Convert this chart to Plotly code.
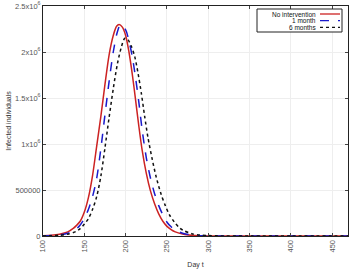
import plotly.graph_objects as go

# Red: no intervention
days_none = [100, 110, 120, 130, 137, 140, 145, 150, 155, 160, 165, 170, 175, 180, 185, 189, 192,
             196, 200, 204, 208, 212, 216, 220, 225, 230, 235, 240, 245, 250, 255, 260, 270, 280,
             290, 300, 350, 400, 470]
inf_none = [0.003, 0.008, 0.02, 0.045, 0.085, 0.11, 0.16, 0.26, 0.42, 0.66, 0.98, 1.30, 1.65, 1.97,
            2.18, 2.28, 2.30, 2.27, 2.18, 2.00, 1.76, 1.48, 1.19, 0.93, 0.68, 0.49, 0.35, 0.24,
            0.16, 0.105, 0.07, 0.045, 0.018, 0.007, 0.003, 0.001, 0.0, 0.0, 0.0]

# Blue: 1 month
days_1m = [100, 110, 120, 130, 140, 145, 150, 155, 160, 165, 170, 175, 180, 185, 190, 194,
           200, 204, 208, 212, 216, 220, 225, 230, 235, 240, 245, 250, 255, 260, 270, 280, 290,
           300, 350, 400, 470]
inf_1m = [0.002, 0.005, 0.012, 0.03, 0.075, 0.12, 0.19, 0.29, 0.43, 0.63, 0.95, 1.32, 1.68, 2.0,
          2.22, 2.30, 2.24, 2.12, 1.95, 1.72, 1.45, 1.15, 0.85, 0.63, 0.46, 0.33, 0.23, 0.15,
          0.10, 0.065, 0.027, 0.011, 0.004, 0.002, 0.0, 0.0, 0.0]

# Black: 6 months
days_6m = [100, 110, 120, 130, 140, 145, 150, 155, 160, 165, 170, 175, 180, 185, 190, 195, 199,
           203, 207, 211, 215, 219, 223, 227, 232, 237, 243, 248, 253, 259, 265, 270, 280, 290,
           300, 310, 350, 400, 470]
inf_6m = [0.001, 0.003, 0.008, 0.02, 0.05, 0.08, 0.13, 0.19, 0.29, 0.43, 0.65, 0.96, 1.29, 1.60,
          1.87, 2.06, 2.15, 2.13, 2.06, 1.95, 1.77, 1.55, 1.30, 1.07, 0.84, 0.64, 0.45, 0.33,
          0.23, 0.15, 0.09, 0.06, 0.025, 0.01, 0.005, 0.002, 0.0, 0.0, 0.0]

series_names = ["No intervention", "1 month", "6 months"]
series_colors = ["#cc2222", "#1a1acc", "#111111"]
series_dash = ["solid", "dash", "dot"]
x_ticks = [100, 150, 200, 250, 300, 350, 400, 450]
y_ticks = [0, 500000, 1000000, 1500000, 2000000, 2500000]
y_tick_labels = ["0", "500000", "1x10<sup>6</sup>", "1.5x10<sup>6</sup>",
                 "2x10<sup>6</sup>", "2.5x10<sup>6</sup>"]

fig = go.Figure()
for name, xs, ys, col, dash in zip(series_names, [days_none, days_1m, days_6m],
                                   [inf_none, inf_1m, inf_6m], series_colors, series_dash):
    fig.add_trace(go.Scatter(x=xs, y=[v * 1e6 for v in ys], mode="lines", name=name,
                             showlegend=False, hoverinfo="skip",
                             line=dict(color=col, width=1.5, dash=dash, shape="spline",
                                       smoothing=0.8)))

# legend box drawn like the original (text right-aligned, sample to the right)
W, H = 350, 270
ml, mr, mt, mb = 43, 2, 6, 34
pw, ph = W - ml - mr, H - mt - mb
def px_x(p):
    return (p - ml) / pw
def px_y(p):
    return 1 - (p - mt) / ph

shapes = [dict(type="rect", xref="paper", yref="paper",
               x0=px_x(257), x1=px_x(342), y0=px_y(32), y1=px_y(9),
               line=dict(color="#222222", width=1), fillcolor="white", layer="above")]
annotations = []
for i, (name, col, dash) in enumerate(zip(series_names, series_colors, series_dash)):
    yc = 14 + i * 6.7
    annotations.append(dict(text=name, xref="paper", yref="paper", x=px_x(318), y=px_y(yc),
                            xanchor="right", yanchor="middle", showarrow=False,
                            font=dict(size=6.5, color="#111111")))
    shapes.append(dict(type="line", xref="paper", yref="paper",
                       x0=px_x(320), x1=px_x(340), y0=px_y(yc), y1=px_y(yc),
                       line=dict(color=col, width=1.3, dash=dash), layer="above"))

font = "Liberation Sans, Arial, sans-serif"
fig.update_layout(
    width=W, height=H,
    margin=dict(l=ml, r=mr, t=mt, b=mb, autoexpand=False),
    paper_bgcolor="white", plot_bgcolor="white",
    font=dict(family=font, size=7, color="#333333"),
    showlegend=False,
    shapes=shapes, annotations=annotations,
    xaxis=dict(range=[100, 469], tickvals=x_ticks, ticks="inside", ticklen=3,
               tickangle=-90, showgrid=True, gridcolor="#eeeeee", gridwidth=1,
               showline=True, linecolor="#222222", linewidth=1, mirror="ticks",
               zeroline=False, title=dict(text="Day t", standoff=10, font=dict(size=7, color="#333333")),
               tickfont=dict(size=7.5, color="#555555")),
    yaxis=dict(range=[0, 2500000], tickvals=y_ticks, ticktext=y_tick_labels,
               ticks="inside", ticklen=3, showgrid=True, gridcolor="#eeeeee",
               showline=True, linecolor="#222222", linewidth=1, mirror="ticks",
               zeroline=False, title=dict(text="Infected individuals", standoff=2,
                                          font=dict(size=7, color="#333333")),
               tickfont=dict(size=7.5, color="#555555")),
)

fig.write_html("out.html", config={"displayModeBar": False, "staticPlot": True},
               post_script="document.body.style.margin='0';document.body.style.padding='0';")
